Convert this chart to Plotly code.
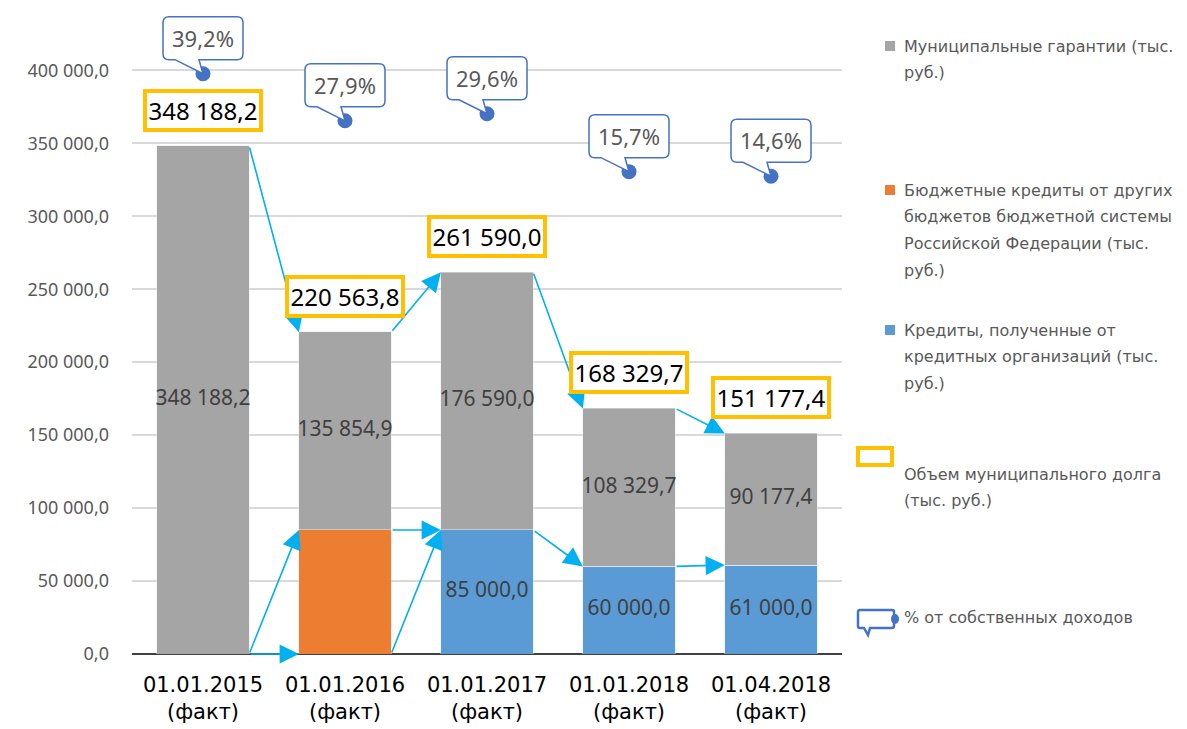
import plotly.graph_objects as go

# --- data ---
categories = ["01.01.2015<br>(факт)", "01.01.2016<br>(факт)", "01.01.2017<br>(факт)",
              "01.01.2018<br>(факт)", "01.04.2018<br>(факт)"]
guarantees = [348188.2, 135854.9, 176590.0, 108329.7, 90177.4]      # gray
budget_credits = [0.0, 85000.0, 0.0, 0.0, 0.0]                      # orange
bank_credits = [0.0, 0.0, 85000.0, 60000.0, 61000.0]                # blue
total_debt = [348188.2, 220563.8, 261590.0, 168329.7, 151177.4]
own_income_pct = [39.2, 27.9, 29.6, 15.7, 14.6]
y_ticks = [0, 50000, 100000, 150000, 200000, 250000, 300000, 350000, 400000]

GRAY, ORANGE, BLUE = "#A5A5A5", "#ED7D31", "#5B9BD5"
CYAN, GOLD, DOT = "#00B0F0", "#FFC000", "#4472C4"
FONT = "Noto Sans"
WIDE = "DejaVu Sans"

W, H = 1187, 729
OFF = 8  # page body margin
L, R, T, B = 132 - OFF, 345 + OFF, 12 - OFF, 75 + OFF
BAR_W = 0.65


def fmt(v):
    return f"{v:,.1f}".replace(",", " ").replace(".", ",")


def px(x, y):
    # screenshot pixel -> paper coordinates (for the hand-made legend)
    x, y = x - OFF, y - OFF
    return (x - L) / (W - L - R), (H - B - y) / (H - T - B)


idx = list(range(len(categories)))
fig = go.Figure()

fig.add_trace(go.Bar(x=idx, y=bank_credits, marker_color=BLUE, width=BAR_W, name="bank"))
fig.add_trace(go.Bar(x=idx, y=budget_credits, marker_color=ORANGE, width=BAR_W, name="budget"))
fig.add_trace(go.Bar(x=idx, y=guarantees, marker_color=GRAY, width=BAR_W, name="guar"))

# segment labels
gray_mid = [b + o + g / 2 for b, o, g in zip(bank_credits, budget_credits, guarantees)]
fig.add_trace(go.Scatter(x=idx, y=gray_mid, mode="text", text=[fmt(v) for v in guarantees],
                         textfont=dict(size=21, color="#404040", family=FONT)))
blue_i = [i for i in idx if bank_credits[i] > 0]
fig.add_trace(go.Scatter(x=blue_i, y=[bank_credits[i] / 2 for i in blue_i], mode="text",
                         text=[fmt(bank_credits[i]) for i in blue_i],
                         textfont=dict(size=21, color="#404040", family=FONT)))

# percent dots on hidden secondary axis
fig.add_trace(go.Scatter(x=idx, y=own_income_pct, yaxis="y2", mode="markers",
                         marker=dict(size=15, color=DOT)))

annotations = []
shapes = []

# arrows between consecutive bars
blue_top = bank_credits
orange_top = [b + o for b, o in zip(bank_credits, budget_credits)]
pairs = set()
for series in (total_debt, blue_top, orange_top):
    for i in range(len(idx) - 1):
        pairs.add((i, series[i], series[i + 1]))
for i, y0, y1 in sorted(pairs):
    annotations.append(dict(x=i + 1 - BAR_W / 2, y=y1, ax=i + BAR_W / 2, ay=y0,
                            xref="x", yref="y", axref="x", ayref="y",
                            showarrow=True, arrowhead=2, arrowsize=2.4, arrowwidth=1.6,
                            arrowcolor=CYAN, text=""))

# total debt boxes
for i, v in zip(idx, total_debt):
    annotations.append(dict(x=i, y=v, yanchor="bottom", yshift=14, showarrow=False,
                            text=fmt(v), font=dict(size=24, color="#000000", family=FONT),
                            width=110, bgcolor="white", bordercolor=GOLD, borderwidth=4,
                            borderpad=1))

# percent callouts
callout = ("M -34,57 L 34,57 Q 40,57 40,51 L 40,20 Q 40,14 34,14 L -4,14 L 0,0 "
           "L -28,14 L -34,14 Q -40,14 -40,20 L -40,51 Q -40,57 -34,57 Z")
for i, p in zip(idx, own_income_pct):
    shapes.append(dict(type="path", xref="x", yref="y2", xsizemode="pixel", ysizemode="pixel",
                       xanchor=i, yanchor=p, path=callout, fillcolor="white",
                       line=dict(color=DOT, width=1.5), layer="above"))
    annotations.append(dict(x=i, y=p, yref="y2", yshift=36, showarrow=False,
                            text=f"{p:.1f}%".replace(".", ","),
                            font=dict(size=22, color="#595959", family=FONT)))

# legend
LEG_FONT = dict(size=16, color="#595959", family=WIDE)
legend_items = [
    (GRAY, ["Муниципальные гарантии (тыс.", "руб.)"], 46),
    (ORANGE, ["Бюджетные кредиты от других", "бюджетов бюджетной системы",
              "Российской Федерации (тыс.", "руб.)"], 190),
    (BLUE, ["Кредиты, полученные от", "кредитных организаций (тыс.", "руб.)"], 330),
]
for color, lines, y0 in legend_items:
    xa, ya = px(885, y0 - 5)
    xb, yb = px(895, y0 + 5)
    shapes.append(dict(type="rect", xref="paper", yref="paper", x0=xa, x1=xb, y0=ya, y1=yb,
                       fillcolor=color, line=dict(width=0)))
    for k, line in enumerate(lines):
        lx, ly = px(902, y0 + k * 26.7)
        annotations.append(dict(x=lx, y=ly, xref="paper", yref="paper", xanchor="left",
                                yanchor="middle", showarrow=False, text=line, font=LEG_FONT))

xa, ya = px(858, 465)
xb, yb = px(892, 448)
shapes.append(dict(type="rect", xref="paper", yref="paper", x0=xa, x1=xb, y0=ya, y1=yb,
                   fillcolor="white", line=dict(color=GOLD, width=4)))
for k, line in enumerate(["Объем муниципального долга", "(тыс. руб.)"]):
    lx, ly = px(902, 474 + k * 26.7)
    annotations.append(dict(x=lx, y=ly, xref="paper", yref="paper", xanchor="left",
                            yanchor="middle", showarrow=False, text=line, font=LEG_FONT))

ax_, ay_ = px(876, 619)
shapes.append(dict(type="path", xref="paper", yref="paper", xsizemode="pixel", ysizemode="pixel",
                   xanchor=ax_, yanchor=ay_,
                   path="M -16,9 L 16,9 Q 18,9 18,7 L 18,-7 Q 18,-9 16,-9 L -6,-9 L -8,-16 "
                        "L -12,-9 L -16,-9 Q -18,-9 -18,-7 L -18,7 Q -18,9 -16,9 Z",
                   fillcolor="white", line=dict(color=DOT, width=2.5)))
cx, cy = px(895, 619)
shapes.append(dict(type="circle", xref="paper", yref="paper", xsizemode="pixel", ysizemode="pixel",
                   xanchor=cx, yanchor=cy, x0=-4, x1=4, y0=-5, y1=5,
                   fillcolor=DOT, line=dict(width=0)))
lx, ly = px(902, 617)
annotations.append(dict(x=lx, y=ly, xref="paper", yref="paper", xanchor="left",
                        yanchor="middle", showarrow=False, text="% от собственных доходов",
                        font=LEG_FONT))

fig.update_layout(
    width=W, height=H, barmode="stack", showlegend=False,
    plot_bgcolor="white", paper_bgcolor="white",
    margin=dict(l=L, r=R, t=T, b=B),
    font=dict(family=FONT),
    xaxis=dict(tickvals=idx, ticktext=categories, range=[-0.5, len(idx) - 0.5],
               showgrid=False, zeroline=False, showline=False,
               tickfont=dict(size=21, color="#000000", family=WIDE), ticklabelstandoff=16),
    yaxis=dict(range=[0, 440000], tickvals=y_ticks, ticktext=[fmt(v) for v in y_ticks],
               gridcolor="#D9D9D9", gridwidth=1.5, zeroline=True, zerolinecolor="#404040",
               zerolinewidth=1.5, showline=False, ticklabelstandoff=22,
               tickfont=dict(size=18, color="#595959")),
    yaxis2=dict(range=[-100, 54], overlaying="y", visible=False),
    annotations=annotations, shapes=shapes,
)

fig.write_html("out.html")
